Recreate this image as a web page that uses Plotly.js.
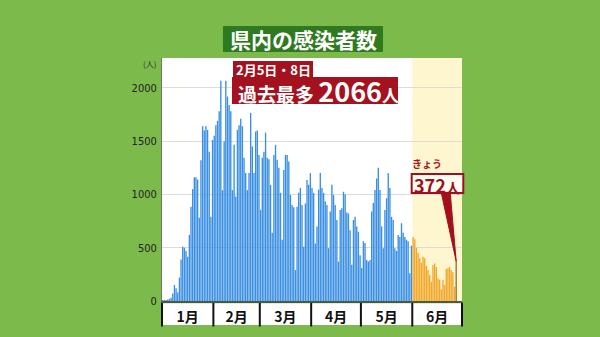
<!DOCTYPE html>
<html>
<head>
<meta charset="utf-8">
<script src="https://cdn.plot.ly/plotly-3.0.1.min.js"></script>
<style>
  html, body { margin: 0; padding: 0; background: #7cba4b; }
  #chart { width: 600px; height: 337px; }
</style>
</head>
<body>
<div id="chart"></div>
<script>
// Daily new cases, 2022
const jan = [10,10,10,15,20,30,70,150,120,80,220,390,510,500,470,415,620,885,1050,1160,1160,1140,780,1320,1640,1600,1640,1605,1400,790,1510];
const feb = [1550,1650,1690,1780,2066,1040,1500,2066,1918,1840,1780,1040,1465,980,1605,1650,1710,1640,1345,1200,1040,1200,1765,1450,1200,1590,1600,1370];
const mar = [855,1345,1400,1580,1345,1330,1090,640,1370,1465,1325,1250,1015,575,1230,1370,1370,1310,995,900,880,290,885,1015,1060,900,510,915,1135,1090,1200];
const apr = [1060,1015,540,700,1045,1200,1060,1015,935,900,495,840,1090,995,900,760,370,855,870,1025,1000,830,820,665,340,760,790,700,650,430];
const may = [310,560,545,385,370,385,840,920,1042,1150,1250,1042,700,495,855,965,1200,1060,790,760,495,470,620,600,730,640,600,575,560,260,520];
const jun = [600,580,500,450,400,360,416,400,330,290,244,180,338,353,320,213,200,110,200,150,300,307,320,290,270,135,372];

const months = [jan, feb, mar, apr, may, jun];
const monthLabels = ['1月','2月','3月','4月','5月','6月'];
const monthStarts = ['2022-01-01','2022-02-01','2022-03-01','2022-04-01','2022-05-01','2022-06-01','2022-07-01'];
const monthMids = ['2022-01-16 12:00','2022-02-15','2022-03-16 12:00','2022-04-16','2022-05-16 12:00','2022-06-16'];
const yTicks = [0, 500, 1000, 1500, 2000];

const BLUE = '#3a8fe2', ORANGE = '#f2a72c', TODAY = '#8d7146';
const RED = '#a3121e';

const xs = [], ys = [], cols = [];
months.forEach((arr, mi) => {
  arr.forEach((v, di) => {
    const mm = String(mi + 1).padStart(2, '0');
    const dd = String(di + 1).padStart(2, '0');
    xs.push('2022-' + mm + '-' + dd + ' 12:00');
    ys.push(v);
    cols.push(mi < 5 ? BLUE : ORANGE);
  });
});
cols[cols.length - 1] = TODAY;
const lastX = xs[xs.length - 1], lastY = ys[ys.length - 1];
const peakVal = Math.max(...ys);

const FONT = '"Noto Sans CJK JP", "Noto Sans", sans-serif';

const trace = {
  type: 'bar', x: xs, y: ys,
  marker: { color: cols, line: { width: 0 } },
  width: 0.82 * 86400000,
  hoverinfo: 'skip'
};

function box(x0, x1, y0, y1, fill, line) {
  return { type: 'rect', xref: 'paper', yref: 'paper', x0: x0, x1: x1, y0: y0, y1: y1,
    fillcolor: fill, line: line || { width: 0 }, layer: 'above' };
}

const shapes = [
  // June highlight
  { type: 'rect', xref: 'x', yref: 'paper', x0: monthStarts[5], x1: monthStarts[6], y0: 0, y1: 1,
    fillcolor: '#fdf6cf', line: { width: 0 }, layer: 'below' },
  // month label strip
  { type: 'rect', xref: 'paper', yref: 'paper', x0: 0, x1: 1, y0: -0.099, y1: -0.009,
    fillcolor: '#ffffff', line: { width: 0 }, layer: 'below' },
  { type: 'line', xref: 'paper', yref: 'paper', x0: 0, x1: 0, y0: -0.105, y1: -0.006,
    line: { color: '#111', width: 2 }, layer: 'below' },
  { type: 'line', xref: 'paper', yref: 'paper', x0: 1, x1: 1, y0: -0.105, y1: -0.006,
    line: { color: '#111', width: 2 }, layer: 'below' },
  // title box
  box(0.2033, 0.7367, 1.0247, 1.1317, '#2f7a20'),
  // record boxes
  box(0.2367, 0.5033, 0.9218, 0.9877, RED),
  box(0.2333, 0.7867, 0.8107, 0.9218, RED),
  // today box
  box(0.8323, 1.0043, 0.4444, 0.5226, '#fffdf2', { color: '#9e1020', width: 2 }),
  // pointer from "today" label to the last bar
  { type: 'path', xref: 'x', yref: 'y', xsizemode: 'pixel', ysizemode: 'pixel',
    xanchor: lastX, yanchor: lastY,
    path: 'M -15 69 L -6 69 L 0 0 Z',
    fillcolor: '#a3101c', line: { color: '#a3101c', width: 1 }, layer: 'above' }
];
for (let i = 1; i < 6; i++) {
  shapes.push({ type: 'line', xref: 'x', yref: 'paper', x0: monthStarts[i], x1: monthStarts[i],
    y0: -0.105, y1: -0.006, line: { color: '#111', width: 2 }, layer: 'below' });
}

const annotations = [
  { xref: 'paper', yref: 'paper', x: 0.47, y: 1.078, xanchor: 'center', yanchor: 'middle', showarrow: false,
    text: '<b>県内の感染者数</b>', font: { family: FONT, size: 21, color: '#ffffff' } },
  { xref: 'paper', yref: 'paper', x: -0.013, y: 0.979, xanchor: 'right', yanchor: 'middle', showarrow: false,
    text: '(人)', font: { family: FONT, size: 8, color: '#333' } },
  { xref: 'paper', yref: 'paper', x: 0.37, y: 0.9547, xanchor: 'center', yanchor: 'middle', showarrow: false,
    text: '<b>2月5日・8日</b>', font: { family: FONT, size: 13, color: '#ffffff' } },
  { xref: 'paper', yref: 'paper', x: 0.248, y: 0.866, xanchor: 'left', yanchor: 'middle', showarrow: false,
    text: '<b>過去最多 <span style="font-size:27px">' + peakVal + '</span><span style="font-size:17px">人</span></b>',
    font: { family: FONT, size: 19, color: '#ffffff' } },
  { xref: 'paper', yref: 'paper', x: 0.8833, y: 0.5658, xanchor: 'center', yanchor: 'middle', showarrow: false,
    text: '<b>きょう</b>', font: { family: FONT, size: 10, color: '#b0101e' } },
  { xref: 'paper', yref: 'paper', x: 0.918, y: 0.4794, xanchor: 'center', yanchor: 'middle', showarrow: false,
    text: '<b>' + lastY + '<span style="font-size:14px">人</span></b>',
    font: { family: FONT, size: 18, color: '#9e1020' } }
];

const layout = {
  width: 600, height: 337,
  margin: { l: 162, r: 138, t: 58, b: 36 },
  paper_bgcolor: '#7cba4b', plot_bgcolor: '#ffffff',
  showlegend: false, bargap: 0.1,
  font: { family: FONT },
  xaxis: {
    type: 'date', range: [monthStarts[0], monthStarts[6]],
    tickmode: 'array', tickvals: monthMids, ticktext: monthLabels,
    ticks: '', showgrid: false, zeroline: false,
    showline: true, linecolor: '#4d5a40', linewidth: 1.5,
    tickfont: { family: FONT, size: 14, color: '#111', weight: 'bold' },
    ticklabelstandoff: 3, fixedrange: true
  },
  yaxis: {
    range: [0, 2280], tickmode: 'array', tickvals: yTicks,
    ticktext: yTicks.map(String),
    ticks: '', showgrid: true, gridcolor: '#dcdcdc', gridwidth: 1,
    zeroline: false, showline: true, linecolor: '#6c7a60', linewidth: 1,
    tickfont: { family: '"Liberation Sans Narrow", "DejaVu Sans Condensed", sans-serif', size: 11, color: '#222' },
    ticklabelstandoff: 2, fixedrange: true
  },
  shapes: shapes,
  annotations: annotations
};

Plotly.newPlot('chart', [trace], layout, { displayModeBar: false, staticPlot: true });
</script>
</body>
</html>
